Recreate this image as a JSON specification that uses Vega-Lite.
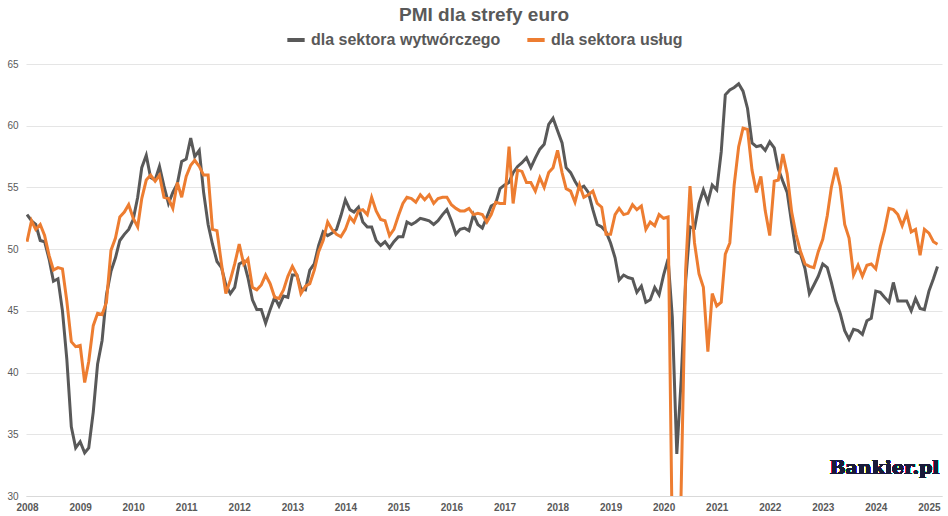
{
  "$schema": "https://vega.github.io/schema/vega-lite/v6.json",
  "width": 948,
  "height": 516,
  "autosize": {"type": "fit", "contains": "padding"},
  "padding": {"left": 6, "right": 6, "top": 6, "bottom": 4},
  "background": "white",
  "config": {"font": "Liberation Sans", "view": {"stroke": null}, "legend": {"layout": {"top": {"anchor": "middle"}}}},
  "title": {"text": "PMI dla strefy euro", "fontSize": 19, "fontWeight": "bold", "color": "#595959", "offset": 4},
  "data": {"values": [
{"d":"2008-01","m":52.8,"s":50.6},{"d":"2008-02","m":52.3,"s":52.3},{"d":"2008-03","m":52.0,"s":51.6},{"d":"2008-04","m":50.7,"s":52.0},{"d":"2008-05","m":50.6,"s":51.1},{"d":"2008-06","m":49.2,"s":49.5},{"d":"2008-07","m":47.4,"s":48.3},{"d":"2008-08","m":47.6,"s":48.5},{"d":"2008-09","m":45.0,"s":48.4},{"d":"2008-10","m":41.1,"s":45.8},{"d":"2008-11","m":35.6,"s":42.5},{"d":"2008-12","m":33.9,"s":42.1},
{"d":"2009-01","m":34.4,"s":42.2},{"d":"2009-02","m":33.5,"s":39.2},{"d":"2009-03","m":33.9,"s":40.9},{"d":"2009-04","m":36.8,"s":43.8},{"d":"2009-05","m":40.7,"s":44.8},{"d":"2009-06","m":42.6,"s":44.7},{"d":"2009-07","m":46.3,"s":45.7},{"d":"2009-08","m":48.2,"s":49.9},{"d":"2009-09","m":49.3,"s":50.9},{"d":"2009-10","m":50.7,"s":52.6},{"d":"2009-11","m":51.2,"s":53.0},{"d":"2009-12","m":51.6,"s":53.6},
{"d":"2010-01","m":52.4,"s":52.5},{"d":"2010-02","m":54.2,"s":51.8},{"d":"2010-03","m":56.6,"s":54.1},{"d":"2010-04","m":57.6,"s":55.6},{"d":"2010-05","m":55.8,"s":56.0},{"d":"2010-06","m":55.6,"s":55.5},{"d":"2010-07","m":56.7,"s":56.0},{"d":"2010-08","m":55.1,"s":54.2},{"d":"2010-09","m":53.7,"s":54.1},{"d":"2010-10","m":54.6,"s":53.3},{"d":"2010-11","m":55.3,"s":55.4},{"d":"2010-12","m":57.1,"s":54.2},
{"d":"2011-01","m":57.3,"s":55.9},{"d":"2011-02","m":59.0,"s":56.8},{"d":"2011-03","m":57.5,"s":57.2},{"d":"2011-04","m":58.0,"s":56.7},{"d":"2011-05","m":54.6,"s":56.0},{"d":"2011-06","m":52.0,"s":56.0},{"d":"2011-07","m":50.4,"s":51.6},{"d":"2011-08","m":49.0,"s":51.5},{"d":"2011-09","m":48.5,"s":48.8},{"d":"2011-10","m":47.1,"s":46.4},{"d":"2011-11","m":46.4,"s":47.5},{"d":"2011-12","m":46.9,"s":48.8},
{"d":"2012-01","m":48.8,"s":50.4},{"d":"2012-02","m":49.0,"s":48.8},{"d":"2012-03","m":47.7,"s":49.2},{"d":"2012-04","m":45.9,"s":46.9},{"d":"2012-05","m":45.1,"s":46.7},{"d":"2012-06","m":45.1,"s":47.1},{"d":"2012-07","m":44.0,"s":47.9},{"d":"2012-08","m":45.1,"s":47.2},{"d":"2012-09","m":46.1,"s":46.1},{"d":"2012-10","m":45.4,"s":46.0},{"d":"2012-11","m":46.2,"s":46.7},{"d":"2012-12","m":46.1,"s":47.8},
{"d":"2013-01","m":47.9,"s":48.6},{"d":"2013-02","m":47.9,"s":47.9},{"d":"2013-03","m":46.8,"s":46.4},{"d":"2013-04","m":46.7,"s":47.0},{"d":"2013-05","m":48.3,"s":47.2},{"d":"2013-06","m":48.8,"s":48.3},{"d":"2013-07","m":50.3,"s":49.8},{"d":"2013-08","m":51.4,"s":50.7},{"d":"2013-09","m":51.1,"s":52.2},{"d":"2013-10","m":51.3,"s":51.6},{"d":"2013-11","m":51.6,"s":51.2},{"d":"2013-12","m":52.7,"s":51.0},
{"d":"2014-01","m":54.0,"s":51.6},{"d":"2014-02","m":53.2,"s":52.6},{"d":"2014-03","m":53.0,"s":52.2},{"d":"2014-04","m":53.4,"s":53.1},{"d":"2014-05","m":52.2,"s":53.2},{"d":"2014-06","m":51.8,"s":52.8},{"d":"2014-07","m":51.8,"s":54.2},{"d":"2014-08","m":50.7,"s":53.1},{"d":"2014-09","m":50.3,"s":52.4},{"d":"2014-10","m":50.6,"s":52.3},{"d":"2014-11","m":50.1,"s":51.1},{"d":"2014-12","m":50.6,"s":51.6},
{"d":"2015-01","m":51.0,"s":52.7},{"d":"2015-02","m":51.0,"s":53.7},{"d":"2015-03","m":52.2,"s":54.2},{"d":"2015-04","m":52.0,"s":54.1},{"d":"2015-05","m":52.2,"s":53.8},{"d":"2015-06","m":52.5,"s":54.4},{"d":"2015-07","m":52.4,"s":54.0},{"d":"2015-08","m":52.3,"s":54.4},{"d":"2015-09","m":52.0,"s":53.7},{"d":"2015-10","m":52.3,"s":54.1},{"d":"2015-11","m":52.8,"s":54.2},{"d":"2015-12","m":53.2,"s":54.2},
{"d":"2016-01","m":52.3,"s":53.6},{"d":"2016-02","m":51.2,"s":53.3},{"d":"2016-03","m":51.6,"s":53.1},{"d":"2016-04","m":51.7,"s":53.1},{"d":"2016-05","m":51.5,"s":53.3},{"d":"2016-06","m":52.8,"s":52.8},{"d":"2016-07","m":52.0,"s":52.9},{"d":"2016-08","m":51.7,"s":52.8},{"d":"2016-09","m":52.6,"s":52.2},{"d":"2016-10","m":53.5,"s":52.8},{"d":"2016-11","m":53.7,"s":53.8},{"d":"2016-12","m":54.9,"s":53.7},
{"d":"2017-01","m":55.2,"s":53.7},{"d":"2017-02","m":55.4,"s":58.3},{"d":"2017-03","m":56.2,"s":53.7},{"d":"2017-04","m":56.7,"s":56.4},{"d":"2017-05","m":57.0,"s":56.3},{"d":"2017-06","m":57.4,"s":55.4},{"d":"2017-07","m":56.6,"s":55.4},{"d":"2017-08","m":57.4,"s":54.7},{"d":"2017-09","m":58.1,"s":55.8},{"d":"2017-10","m":58.5,"s":55.0},{"d":"2017-11","m":60.1,"s":56.2},{"d":"2017-12","m":60.6,"s":56.6},
{"d":"2018-01","m":59.6,"s":58.0},{"d":"2018-02","m":58.6,"s":56.2},{"d":"2018-03","m":56.6,"s":54.9},{"d":"2018-04","m":56.2,"s":54.7},{"d":"2018-05","m":55.5,"s":53.8},{"d":"2018-06","m":54.9,"s":55.2},{"d":"2018-07","m":55.1,"s":54.2},{"d":"2018-08","m":54.6,"s":54.4},{"d":"2018-09","m":53.2,"s":54.7},{"d":"2018-10","m":52.0,"s":53.7},{"d":"2018-11","m":51.8,"s":53.4},{"d":"2018-12","m":51.4,"s":51.2},
{"d":"2019-01","m":50.5,"s":51.2},{"d":"2019-02","m":49.3,"s":52.8},{"d":"2019-03","m":47.5,"s":53.3},{"d":"2019-04","m":47.9,"s":52.8},{"d":"2019-05","m":47.7,"s":52.9},{"d":"2019-06","m":47.6,"s":53.6},{"d":"2019-07","m":46.5,"s":53.2},{"d":"2019-08","m":47.0,"s":53.5},{"d":"2019-09","m":45.7,"s":51.6},{"d":"2019-10","m":45.9,"s":52.2},{"d":"2019-11","m":46.9,"s":51.9},{"d":"2019-12","m":46.3,"s":52.8},
{"d":"2020-01","m":47.9,"s":52.5},{"d":"2020-02","m":49.2,"s":52.6},{"d":"2020-03","m":44.5,"s":26.4},{"d":"2020-04","m":33.4,"s":12.0},{"d":"2020-05","m":39.4,"s":30.5},{"d":"2020-06","m":47.4,"s":48.3},{"d":"2020-07","m":51.8,"s":55.1},{"d":"2020-08","m":51.7,"s":50.5},{"d":"2020-09","m":53.7,"s":48.0},{"d":"2020-10","m":54.8,"s":46.9},{"d":"2020-11","m":53.8,"s":41.7},{"d":"2020-12","m":55.2,"s":46.4},
{"d":"2021-01","m":54.8,"s":45.4},{"d":"2021-02","m":57.9,"s":45.7},{"d":"2021-03","m":62.5,"s":49.6},{"d":"2021-04","m":62.9,"s":50.5},{"d":"2021-05","m":63.1,"s":55.2},{"d":"2021-06","m":63.4,"s":58.3},{"d":"2021-07","m":62.8,"s":59.8},{"d":"2021-08","m":61.4,"s":59.7},{"d":"2021-09","m":58.6,"s":56.4},{"d":"2021-10","m":58.3,"s":54.6},{"d":"2021-11","m":58.4,"s":55.9},{"d":"2021-12","m":58.0,"s":53.1},
{"d":"2022-01","m":58.7,"s":51.1},{"d":"2022-02","m":58.2,"s":55.5},{"d":"2022-03","m":56.5,"s":55.6},{"d":"2022-04","m":55.5,"s":57.7},{"d":"2022-05","m":54.6,"s":56.1},{"d":"2022-06","m":52.1,"s":53.0},{"d":"2022-07","m":49.8,"s":51.2},{"d":"2022-08","m":49.6,"s":49.8},{"d":"2022-09","m":48.4,"s":48.8},{"d":"2022-10","m":46.4,"s":48.6},{"d":"2022-11","m":47.1,"s":48.5},{"d":"2022-12","m":47.8,"s":49.8},
{"d":"2023-01","m":48.8,"s":50.8},{"d":"2023-02","m":48.5,"s":52.7},{"d":"2023-03","m":47.3,"s":55.0},{"d":"2023-04","m":45.8,"s":56.6},{"d":"2023-05","m":44.8,"s":55.1},{"d":"2023-06","m":43.4,"s":52.0},{"d":"2023-07","m":42.7,"s":50.9},{"d":"2023-08","m":43.5,"s":47.9},{"d":"2023-09","m":43.4,"s":48.7},{"d":"2023-10","m":43.1,"s":47.8},{"d":"2023-11","m":44.2,"s":48.7},{"d":"2023-12","m":44.4,"s":48.8},
{"d":"2024-01","m":46.6,"s":48.4},{"d":"2024-02","m":46.5,"s":50.2},{"d":"2024-03","m":46.1,"s":51.5},{"d":"2024-04","m":45.7,"s":53.3},{"d":"2024-05","m":47.3,"s":53.2},{"d":"2024-06","m":45.8,"s":52.8},{"d":"2024-07","m":45.8,"s":51.9},{"d":"2024-08","m":45.8,"s":52.9},{"d":"2024-09","m":45.0,"s":51.4},{"d":"2024-10","m":46.0,"s":51.6},{"d":"2024-11","m":45.2,"s":49.5},{"d":"2024-12","m":45.1,"s":51.6},
{"d":"2025-01","m":46.6,"s":51.3},{"d":"2025-02","m":47.6,"s":50.6},{"d":"2025-03","m":48.6,"s":50.4}
  ]},
  "layer": [
    {
      "transform": [
        {"fold": ["m", "s"], "as": ["series", "val"]},
        {"lookup": "series", "from": {"data": {"values": [{"k": "m", "Seria": "dla sektora wytwórczego"}, {"k": "s", "Seria": "dla sektora usług"}]}, "key": "k", "fields": ["Seria"]}}
      ],
      "mark": {"type": "line", "strokeWidth": 3, "clip": true},
      "encoding": {
        "x": {"field": "d", "type": "temporal",
          "scale": {"domain": [{"year": 2007, "month": 12, "date": 25}, {"year": 2025, "month": 4, "date": 1}]},
          "axis": {"title": null, "format": "%Y", "tickCount": {"interval": "year", "step": 1}, "grid": false, "ticks": false, "domainColor": "#d9d9d9", "labelColor": "#595959", "labelFontSize": 10, "labelFontWeight": "bold", "labelFlush": false, "labelPadding": 6}},
        "y": {"field": "val", "type": "quantitative",
          "scale": {"domain": [30, 65], "nice": false, "zero": false},
          "axis": {"title": null, "values": [30,35,40,45,50,55,60,65], "gridColor": "#e5e5e5", "domain": false, "ticks": false, "labelColor": "#595959", "labelFontSize": 10, "labelPadding": 8}},
        "color": {"field": "Seria", "type": "nominal",
          "scale": {"domain": ["dla sektora wytwórczego", "dla sektora usług"], "range": ["#595959", "#ED7D31"]},
          "legend": {"orient": "top", "direction": "horizontal", "title": null, "labelFontSize": 16, "labelFontWeight": "bold", "labelColor": "#595959", "labelLimit": 400, "symbolType": "stroke", "symbolStrokeWidth": 4, "symbolSize": 300, "columnPadding": 18, "offset": 16}}
      }
    },
    {
      "mark": {"type": "text", "text": "Bankier.pl", "font": "DejaVu Serif", "fontSize": 19, "fontWeight": "bold", "color": "#1a1a3a", "align": "center"},
      "encoding": {
        "x": {"datum": {"year": 2024, "month": 3, "date": 1}},
        "y": {"datum": 32.3}
      }
    }
  ]
}
